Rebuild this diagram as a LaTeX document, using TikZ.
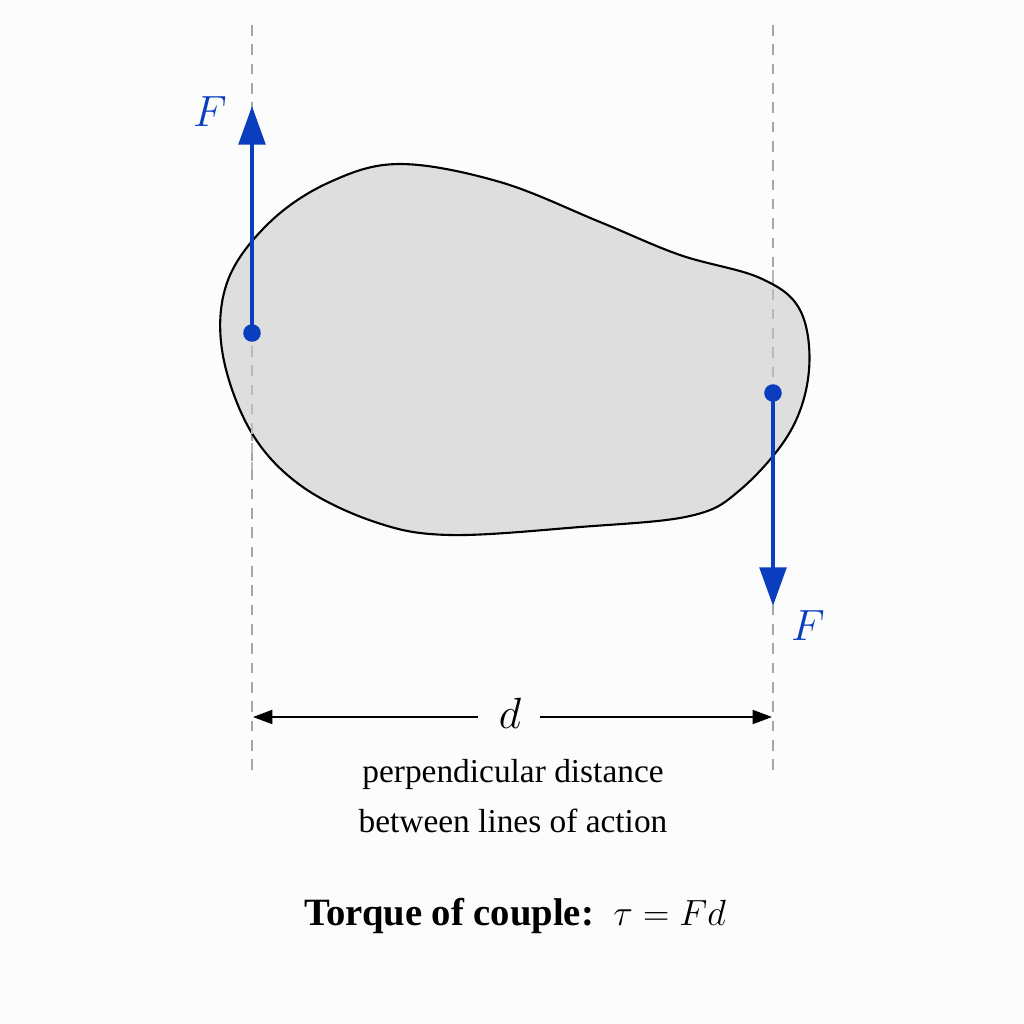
\documentclass[tikz,border=0pt]{standalone}
\usepackage{fontspec}
\setmainfont{Liberation Serif}
\usetikzlibrary{arrows.meta}
\definecolor{forceblue}{HTML}{0A3EBF}
\definecolor{bodygray}{HTML}{DEDEDE}
\begin{document}
\begin{tikzpicture}[x=0.02cm,y=-0.02cm,
  guide/.style={gray!70,dashed,line width=0.8pt,dash pattern=on 6pt off 5pt},
  force/.style={forceblue,line width=2.6pt,-{Triangle[length=22pt,width=15pt]}},
  dotpt/.style={circle,fill=forceblue,inner sep=0pt,minimum size=10pt},
  flabel/.style={text=forceblue,font=\fontsize{28}{32}\selectfont},
  dimarrow/.style={line width=1pt,-{Triangle[length=11pt,width=8pt]}},
  caption/.style={font=\fontsize{19}{23}\selectfont,align=center}]
\fill[white!98!gray] (0,0) rectangle (1024,1024);
\useasboundingbox (0,0) rectangle (1024,1024);
% guide lines
\coordinate (gLt) at (252,25); \coordinate (gLb) at (252,770);
\coordinate (gRt) at (773,25); \coordinate (gRb) at (773,770);
\draw[guide] (gLt) -- (gLb);
\draw[guide] (gRt) -- (gRb);
% body
\draw[fill=bodygray,line width=1.2pt] plot[smooth cycle,tension=0.6] coordinates {
 (228,280) (270,222) (330,182) (400,164) (500,182) (600,222) (680,255) (760,278)
 (800,310) (809,370) (790,432) (740,490) (690,516) (580,527) (450,535) (375,522)
 (300,485) (250,430) (222,350)};
% guide lines over body (visible faintly)
\draw[guide,gray!55] (252,230) -- (252,470);
\draw[guide,gray!55] (773,270) -- (773,500);
% forces
\node[dotpt] (p1) at (252,333) {};
\coordinate (t1) at (252,106);
\draw[force] (p1.center) -- (t1);
\node[flabel] (F1) at (210,112) {$F$};
\node[dotpt] (p2) at (773,393) {};
\coordinate (t2) at (773,606);
\draw[force] (p2.center) -- (t2);
\node[flabel] (F2) at (808,626) {$F$};
% dimension
\node (d) at (510,713) {\fontsize{33}{37}\selectfont $d$};
\coordinate (dL) at (253,717); \coordinate (dR) at (772,717);
\draw[dimarrow] (478,717) -- (dL);
\draw[dimarrow] (540,717) -- (dR);
\node[caption] (c1) at (513,774) {perpendicular distance};
\node[caption] (c2) at (513,821) {between lines of action};
\node[font=\fontsize{22}{26}\selectfont] (tq) at (515,916) {\textbf{Torque of couple:}\enspace $\tau = Fd$};
\end{tikzpicture}
\end{document}
